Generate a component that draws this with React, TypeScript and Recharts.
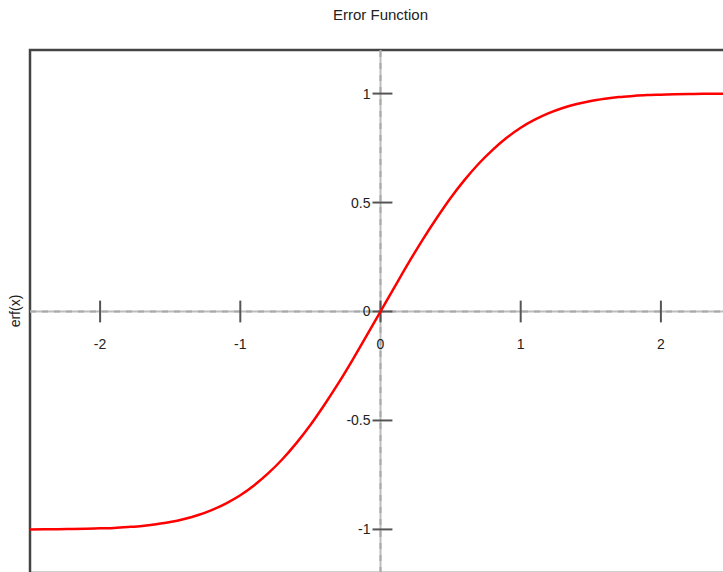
import React from 'react';
import { LineChart, Line, XAxis, YAxis, ReferenceLine, ReferenceArea } from 'recharts';

const xValues = [
  -2.5, -2.4, -2.3, -2.2, -2.1, -2.0, -1.9, -1.8, -1.7, -1.6, -1.5, -1.4, -1.3, -1.2, -1.1, -1.0,
  -0.9, -0.8, -0.7, -0.6, -0.5, -0.4, -0.3, -0.2, -0.1, 0, 0.1, 0.2, 0.3, 0.4, 0.5, 0.6, 0.7, 0.8,
  0.9, 1.0, 1.1, 1.2, 1.3, 1.4, 1.5, 1.6, 1.7, 1.8, 1.9, 2.0, 2.1, 2.2, 2.3, 2.4, 2.5,
];
const erfValues = [
  -1.0, -0.999, -0.999, -0.998, -0.997, -0.995, -0.993, -0.989, -0.984, -0.976, -0.966, -0.952,
  -0.934, -0.910, -0.880, -0.843, -0.797, -0.742, -0.678, -0.604, -0.521, -0.428, -0.329, -0.223,
  -0.112, 0, 0.112, 0.223, 0.329, 0.428, 0.521, 0.604, 0.678, 0.742, 0.797, 0.843, 0.880, 0.910,
  0.934, 0.952, 0.966, 0.976, 0.984, 0.989, 0.993, 0.995, 0.997, 0.998, 0.999, 0.999, 1.0,
];

const xTicks = [-2, -1, 0, 1, 2];
const xTickLabels = ['-2', '-1', '0', '1', '2'];
const yTicks = [-1, -0.5, 0, 0.5, 1];
const yTickLabels = ['-1', '-0.5', '0', '0.5', '1'];

const xDomain: [number, number] = [-2.5, 2.5];
const yDomain: [number, number] = [-1.2, 1.2];

const data = xValues.map((x, i) => ({ x, y: erfValues[i] }));

const FONT = '"Liberation Sans", Arial, Helvetica, sans-serif';
const AXIS_GRAY = '#bcbcbc';
const TICK_GRAY = '#555';

export default function App() {
  return (
    <div
      style={{
        position: 'fixed',
        left: 0,
        top: 0,
        width: 723,
        height: 572,
        overflow: 'hidden',
        background: '#fff',
        fontFamily: FONT,
      }}
    >
      <div
        style={{
          position: 'absolute',
          left: 0,
          width: 761,
          top: 6,
          textAlign: 'center',
          fontSize: 15,
          color: '#222',
          lineHeight: '18px',
        }}
      >
        Error Function
      </div>
      <div
        style={{
          position: 'absolute',
          left: 15,
          top: 311,
          transform: 'translate(-50%, -50%) rotate(-90deg)',
          fontSize: 14,
          color: '#222',
          whiteSpace: 'nowrap',
        }}
      >
        erf(x)
      </div>
      <LineChart
        width={760}
        height={600}
        data={data}
        margin={{ top: 50, right: 29, bottom: 27, left: 30 }}
        style={{ position: 'absolute', left: 0, top: 0 }}
      >
        <XAxis dataKey="x" type="number" domain={xDomain} allowDataOverflow hide />
        <YAxis type="number" domain={yDomain} allowDataOverflow hide />

        {/* frame */}
        <ReferenceArea
          x1={xDomain[0]}
          x2={xDomain[1]}
          y1={yDomain[0]}
          y2={yDomain[1]}
          fill="none"
          stroke="#444"
          strokeWidth={2.5}
          ifOverflow="visible"
        />

        {/* axes through the origin */}
        <ReferenceLine y={0} stroke={AXIS_GRAY} strokeWidth={2} />
        <ReferenceLine y={0} stroke="#a9a9a9" strokeWidth={2} strokeDasharray="6 6" />
        <ReferenceLine x={0} stroke={AXIS_GRAY} strokeWidth={2} />
        <ReferenceLine x={0} stroke="#a9a9a9" strokeWidth={2} strokeDasharray="6 6" />

        {xTicks.map((t, i) => (
          <ReferenceLine
            key={`xt${t}`}
            segment={[
              { x: t, y: -0.05 },
              { x: t, y: 0.05 },
            ]}
            stroke={TICK_GRAY}
            strokeWidth={2}
            label={{
              value: xTickLabels[i],
              position: 'bottom',
              offset: 17,
              fontSize: 14,
              fill: '#222',
              fontFamily: FONT,
            }}
          />
        ))}

        {yTicks.map((t, i) => (
          <ReferenceLine
            key={`yt${t}`}
            segment={[
              { x: -0.057, y: t },
              { x: 0.085, y: t },
            ]}
            stroke={TICK_GRAY}
            strokeWidth={2}
            label={{
              value: yTickLabels[i],
              position: 'left',
              offset: 2,
              fontSize: 14,
              fill: '#222',
              fontFamily: FONT,
            }}
          />
        ))}

        <Line
          type="monotone"
          dataKey="y"
          stroke="#ff0000"
          strokeWidth={2.5}
          dot={false}
          isAnimationActive={false}
        />
      </LineChart>
    </div>
  );
}
